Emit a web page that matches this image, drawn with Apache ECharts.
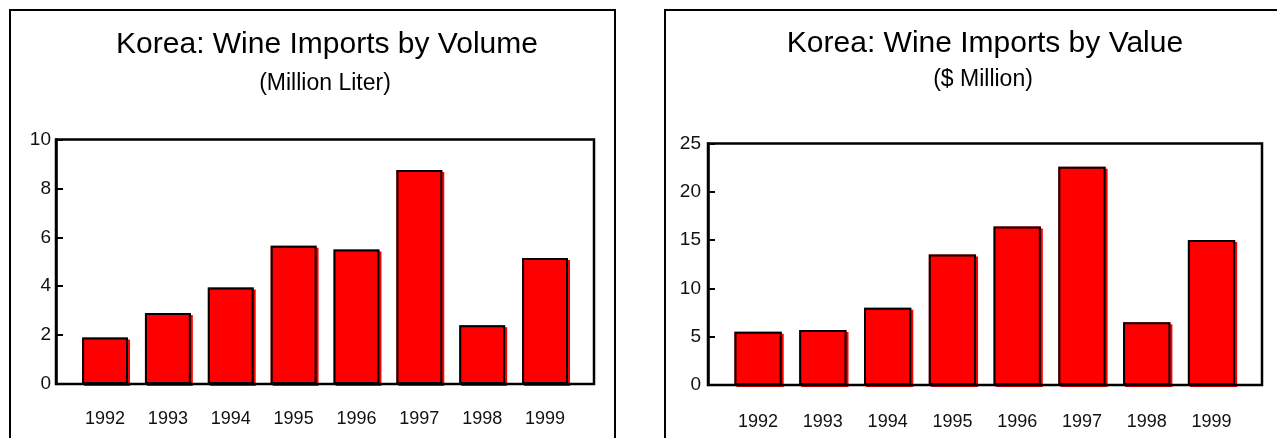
<!DOCTYPE html>
<html>
<head>
<meta charset="utf-8">
<script src="https://cdn.jsdelivr.net/npm/echarts@6/dist/echarts.min.js"></script>
<style>
  html, body { margin: 0; padding: 0; background: #fff; }
  #chart { width: 1277px; height: 438px; }
</style>
</head>
<body>
<div id="chart"></div>
<script>
const years = ['1992', '1993', '1994', '1995', '1996', '1997', '1998', '1999'];
const volumeMillionLiter = [1.9, 2.9, 3.95, 5.65, 5.5, 8.75, 2.4, 5.15];
const valueMillionUSD = [5.5, 5.7, 8.0, 13.5, 16.4, 22.6, 6.5, 15.0];
const volumeTicks = [0, 2, 4, 6, 8, 10];
const valueTicks = [0, 5, 10, 15, 20, 25];
const titles = ['Korea: Wine Imports by Volume', 'Korea: Wine Imports by Value'];
const subtitles = ['(Million Liter)', '($ Million)'];

const FONT = '"Liberation Sans", Arial, sans-serif';

const chart = echarts.init(document.getElementById('chart'), null, { renderer: 'canvas' });

function tickAxis(gridIndex, ticks, margin) {
  return {
    type: 'value', gridIndex: gridIndex, position: 'left',
    min: ticks[0], max: ticks[ticks.length - 1], interval: ticks[1] - ticks[0],
    axisLine: { show: true, onZero: false, lineStyle: { color: '#000', width: 2.5 } },
    axisTick: { show: true, inside: true, length: 7, lineStyle: { color: '#000', width: 2 } },
    axisLabel: { margin: margin, color: '#111', fontFamily: FONT, fontSize: 19 },
    splitLine: { show: false },
    z: 50
  };
}
function hiddenValueAxis(gridIndex, ticks) {
  return { type: 'value', gridIndex: gridIndex, min: ticks[0], max: ticks[ticks.length - 1], show: false, splitLine: { show: false } };
}
function labelCatAxis(gridIndex, margin) {
  return {
    type: 'category', gridIndex: gridIndex, data: years,
    axisLine: { show: false }, axisTick: { show: false },
    axisLabel: { margin: margin, color: '#111', fontFamily: FONT, fontSize: 18, interval: 0 }
  };
}
function redSeries(idx, data) {
  return {
    type: 'bar', xAxisIndex: idx, yAxisIndex: idx, data: data, barWidth: '73%', z: 2, silent: true,
    itemStyle: { color: '#ff0000', shadowColor: '#ff0000', shadowBlur: 0, shadowOffsetX: 2, shadowOffsetY: 2 }
  };
}
function outlineSeries(idx, data) {
  return {
    type: 'bar', xAxisIndex: idx, yAxisIndex: idx, data: data, barWidth: '73%', barGap: '-100%', z: 3, silent: true,
    itemStyle: { color: 'rgba(0,0,0,0)', borderColor: '#000', borderWidth: 2 }
  };
}

const boxL = { left: 56, top: 139.5, width: 538, height: 244.5 };
const boxR = { left: 708, top: 143.5, width: 554, height: 241.5 };

const option = {
  backgroundColor: '#fff',
  animation: false,
  grid: [
    { left: boxL.left, top: boxL.top, width: boxL.width, height: boxL.height },
    { left: 73.6, top: boxL.top, width: 502.9, height: boxL.height },
    { left: boxR.left, top: boxR.top, width: boxR.width, height: boxR.height },
    { left: 725.7, top: boxR.top, width: 518.2, height: boxR.height }
  ],
  xAxis: [
    { type: 'category', gridIndex: 0, data: years, show: false },
    labelCatAxis(1, 26),
    { type: 'category', gridIndex: 2, data: years, show: false },
    labelCatAxis(3, 28)
  ],
  yAxis: [
    tickAxis(0, volumeTicks, 5),
    hiddenValueAxis(1, volumeTicks),
    tickAxis(2, valueTicks, 7),
    hiddenValueAxis(3, valueTicks)
  ],
  series: [
    redSeries(1, volumeMillionLiter),
    outlineSeries(1, volumeMillionLiter),
    redSeries(3, valueMillionUSD),
    outlineSeries(3, valueMillionUSD)
  ],
  graphic: [
    { type: 'rect', z: 100, shape: { x: 10, y: 10, width: 605, height: 600 }, style: { fill: 'none', stroke: '#000', lineWidth: 2 }, silent: true },
    { type: 'rect', z: 100, shape: { x: 665, y: 10, width: 700, height: 600 }, style: { fill: 'none', stroke: '#000', lineWidth: 2 }, silent: true },
    { type: 'rect', z: 100, shape: { x: boxL.left, y: boxL.top, width: boxL.width, height: boxL.height }, style: { fill: 'none', stroke: '#000', lineWidth: 2.5 }, silent: true },
    { type: 'rect', z: 100, shape: { x: boxR.left, y: boxR.top, width: boxR.width, height: boxR.height }, style: { fill: 'none', stroke: '#000', lineWidth: 2.5 }, silent: true },
    { type: 'text', x: 327, y: 45, style: { text: titles[0], fill: '#000', font: '30px ' + FONT, textAlign: 'center', textVerticalAlign: 'middle' } },
    { type: 'text', x: 325, y: 84, style: { text: subtitles[0], fill: '#000', font: '23px ' + FONT, textAlign: 'center', textVerticalAlign: 'middle' } },
    { type: 'text', x: 985, y: 44, style: { text: titles[1], fill: '#000', font: '30px ' + FONT, textAlign: 'center', textVerticalAlign: 'middle' } },
    { type: 'text', x: 983, y: 80, style: { text: subtitles[1], fill: '#000', font: '23px ' + FONT, textAlign: 'center', textVerticalAlign: 'middle' } }
  ]
};
chart.setOption(option);
</script>
</body>
</html>
